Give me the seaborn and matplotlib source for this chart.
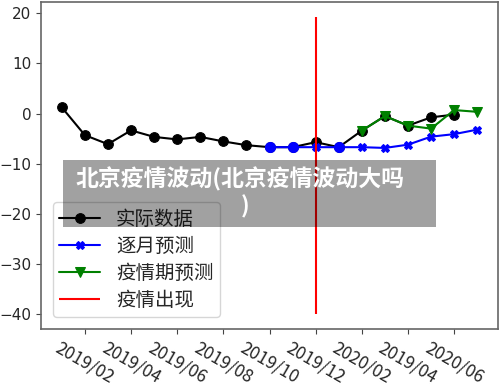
import matplotlib
matplotlib.use("Agg")
import matplotlib.pyplot as plt
import seaborn as sns
import pandas as pd
import numpy as np
from matplotlib.patches import Rectangle

sns.set_style("ticks")
plt.rcParams['font.family'] = ['Noto Sans CJK SC', 'DejaVu Sans']

# ---- data ----
months = ["2019/01", "2019/02", "2019/03", "2019/04", "2019/05", "2019/06", "2019/07",
          "2019/08", "2019/09", "2019/10", "2019/11", "2019/12", "2020/01", "2020/02",
          "2020/03", "2020/04", "2020/05", "2020/06", "2020/07"]
tick_labels = ["2019/02", "2019/04", "2019/06", "2019/08", "2019/10", "2019/12",
               "2020/02", "2019/04", "2020/06"]
actual = [1.25, -4.3, -6.1, -3.35, -4.65, -5.15, -4.65, -5.55, -6.3,
          -6.7, -6.7, -5.7, -6.7, -3.4, -0.5, -2.4, -0.75, -0.2]
monthly_pred = [-6.7, -6.7, -6.7, -6.7, -6.7, -6.85, -6.2, -4.6, -4.1, -3.2]
epidemic_pred = [-3.4, -0.5, -2.4, -3.0, 0.7, 0.35]
outbreak_month = "2019/12"
outbreak_range = [-40, 19.3]
title_lines = ["北京疫情波动(北京疫情波动大吗", ")"]

idx = {m: i for i, m in enumerate(months)}
df_act = pd.DataFrame({"x": np.arange(len(actual)), "y": actual})
df_mon = pd.DataFrame({"x": np.arange(len(months) - len(monthly_pred), len(months)), "y": monthly_pred})
df_epi = pd.DataFrame({"x": np.arange(len(months) - len(epidemic_pred), len(months)), "y": epidemic_pred})

fig = plt.figure(figsize=(5, 3.88), dpi=100)
ax = fig.add_axes([0.082, 0.152, 0.914, 0.843])

sns.lineplot(data=df_act, x="x", y="y", ax=ax, color="black", marker="o",
             markersize=7, markeredgecolor="black", linewidth=1.5, label="实际数据")
# points where the monthly prediction coincides with actual data are shown as blue dots
act_map = dict(zip(df_act.x, df_act.y))
same = df_mon[[abs(act_map.get(x, 1e9) - y) < 0.05 for x, y in zip(df_mon.x, df_mon.y)]]
ax.plot(same.x, same.y, linestyle="none", marker="o", markersize=7, color="blue")
sns.lineplot(data=df_mon, x="x", y="y", ax=ax, color="blue", marker="X",
             markersize=6, markeredgecolor="blue", linewidth=1.5, label="逐月预测")
sns.lineplot(data=df_epi, x="x", y="y", ax=ax, color="green", marker="v",
             markersize=7, markeredgecolor="green", linewidth=1.5, label="疫情期预测")
ax.vlines(idx[outbreak_month], outbreak_range[0], outbreak_range[1], color="red",
          linewidth=1.5, label="疫情出现")

ax.set_xlabel("")
ax.set_ylabel("")
ax.set_xticks(np.arange(1, len(months), 2))
ax.set_xticklabels(tick_labels, rotation=-30, fontsize=12.5)
ax.set_yticks([20, 10, 0, -10, -20, -30, -40])
ax.tick_params(axis="y", labelsize=11)
for lab in ax.get_yticklabels():
    lab.set_fontfamily("DejaVu Sans")
ax.margins(x=0.05, y=0.05)
for s in ax.spines.values():
    s.set_visible(True)
    s.set_color("#666666")
    s.set_linewidth(1.2)
ax.tick_params(color="#444444")

leg = ax.legend(loc="lower left", fontsize=14, frameon=True, framealpha=0.8,
                handlelength=2.1, labelspacing=0.3, borderaxespad=0.6,
                borderpad=0.35)
leg.get_frame().set_edgecolor("#cccccc")

# overlay banner
fig.patches.append(Rectangle((63 / 500, 1 - 227 / 388), (436 - 63) / 500, (227 - 160) / 388,
                             transform=fig.transFigure, facecolor="black", alpha=0.37,
                             edgecolor="none", zorder=10))
fig.text(240 / 500, 1 - 179 / 388, title_lines[0], ha="center", va="center", color="white",
         fontsize=16.5, fontweight="heavy", zorder=11,
         family=['Noto Sans CJK SC', 'DejaVu Sans'])
fig.text(245 / 500, 1 - 207 / 388, title_lines[1], ha="center", va="center", color="white",
         fontsize=16.5, fontweight="heavy", zorder=11,
         family=['Noto Sans CJK SC', 'DejaVu Sans'])

fig.savefig("out.png", dpi=100)
